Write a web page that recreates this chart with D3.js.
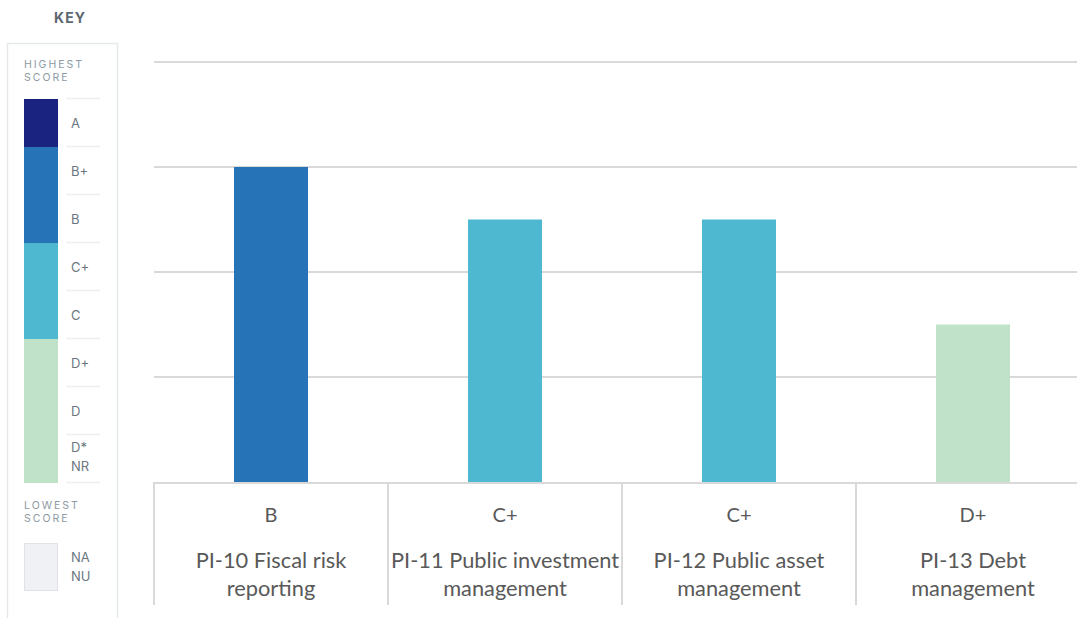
<!DOCTYPE html>
<html>
<head>
<meta charset="utf-8">
<script src="https://cdn.jsdelivr.net/npm/d3@7"></script>
<style>
  body { margin: 0; background: #fff; }
  svg { display: block; }
</style>
</head>
<body>
<svg id="chart" width="1077" height="618"></svg>
<script>
// indicator data
var categories = ["PI-10", "PI-11", "PI-12", "PI-13"];
var labelLines = [
    ["PI-10 Fiscal risk", "reporting"],
    ["PI-11 Public investment", "management"],
    ["PI-12 Public asset", "management"],
    ["PI-13 Debt", "management"]
];
var grades = ["B", "C+", "C+", "D+"];
var scores = [3, 2.5, 2.5, 1.5];
var yTicks = [1, 2, 3, 4];

// key data
var keyGrades = ["A", "B+", "B", "C+", "C", "D+", "D", "D*\nNR"];
var keyBands = [
    { from: 0, to: 1, color: "#1b2380" },
    { from: 1, to: 3, color: "#2673b8" },
    { from: 3, to: 5, color: "#4fb8d1" },
    { from: 5, to: 8, color: "#bfe2c8" }
];
var gradeColor = { "A": "#1b2380", "B+": "#2673b8", "B": "#2673b8", "C+": "#4fb8d1", "C": "#4fb8d1", "D+": "#bfe2c8", "D": "#bfe2c8" };

var svg = d3.select("#chart");

// ---------- chart ----------
var plot = { left: 154, right: 1090, top: 62, bottom: 482 };

var x = d3.scaleBand()
    .domain(categories)
    .range([plot.left, plot.right])
    .paddingInner(0)
    .paddingOuter(0);

var y = d3.scaleLinear()
    .domain([0, 4])
    .range([plot.bottom, plot.top]);

//gridlines
svg.append("g").selectAll("line")
    .data(yTicks)
    .enter()
    .append("line")
    .attr("x1", plot.left)
    .attr("x2", 1077)
    .attr("y1", function(d) { return y(d); })
    .attr("y2", function(d) { return y(d); })
    .style("stroke", "#d9d9d9")
    .style("stroke-width", 2);

//bars
var barW = 74;
svg.append("g").selectAll("rect")
    .data(categories)
    .enter()
    .append("rect")
    .attr("x", function(d) { return x(d) + x.bandwidth() / 2 - barW / 2; })
    .attr("y", function(d, i) { return y(scores[i]); })
    .attr("width", barW)
    .attr("height", function(d, i) { return y(0) - y(scores[i]); })
    .style("fill", function(d, i) { return gradeColor[grades[i]]; });

//baseline
svg.append("line")
    .attr("x1", plot.left).attr("x2", 1077)
    .attr("y1", y(0) + 1).attr("y2", y(0) + 1)
    .style("stroke", "#d9d9d9")
    .style("stroke-width", 2);

//column separators
svg.append("g").selectAll("line")
    .data(categories)
    .enter()
    .append("line")
    .attr("x1", function(d) { return x(d); })
    .attr("x2", function(d) { return x(d); })
    .attr("y1", y(0))
    .attr("y2", 605)
    .style("stroke", "#d9d9d9")
    .style("stroke-width", 2);

//grade + label text
var cols = svg.append("g").selectAll("g")
    .data(categories)
    .enter()
    .append("g")
    .attr("transform", function(d) { return "translate(" + (x(d) + x.bandwidth() / 2) + ",0)"; })
    .style("font-family", "Lato, 'Open Sans', sans-serif")
    .style("fill", "#595959")
    .attr("text-anchor", "middle");

cols.append("text")
    .attr("y", 522)
    .style("font-size", "20px")
    .text(function(d, i) { return grades[i]; });

cols.each(function(d, i) {
    var g = d3.select(this);
    labelLines[i].forEach(function(line, j) {
        g.append("text")
            .attr("y", 568 + j * 28)
            .style("font-size", "21.8px")
            .text(line);
    });
});

// ---------- key ----------
var key = svg.append("g")
    .style("font-family", "Inter, Roboto, sans-serif");

key.append("text")
    .attr("x", 70).attr("y", 23)
    .attr("text-anchor", "middle")
    .style("font-size", "14px")
    .style("font-weight", "bold")
    .style("letter-spacing", "1px")
    .style("fill", "#5d6870")
    .text("KEY");

key.append("rect")
    .attr("x", 7.5).attr("y", 43.5)
    .attr("width", 110).attr("height", 600)
    .style("fill", "none")
    .style("stroke", "#e6e9ec")
    .style("stroke-width", 1.5);

var smallCaps = function(lines, y0) {
    lines.forEach(function(t, j) {
        key.append("text")
            .attr("x", 24).attr("y", y0 + j * 13)
            .style("font-size", "10.5px")
            .style("letter-spacing", "2px")
            .style("fill", "#8e9aa3")
            .text(t);
    });
};
smallCaps(["HIGHEST", "SCORE"], 68);
smallCaps(["LOWEST", "SCORE"], 509);

var ky = d3.scaleLinear().domain([0, 8]).range([99, 483]);

key.append("g").selectAll("rect")
    .data(keyBands)
    .enter()
    .append("rect")
    .attr("x", 24)
    .attr("y", function(d) { return ky(d.from); })
    .attr("width", 34)
    .attr("height", function(d) { return ky(d.to) - ky(d.from); })
    .style("fill", function(d) { return d.color; });

key.append("g").selectAll("line")
    .data(d3.range(keyGrades.length + 1))
    .enter()
    .append("line")
    .attr("x1", 66).attr("x2", 100)
    .attr("y1", function(d) { return ky(d) - 0.5; })
    .attr("y2", function(d) { return ky(d) - 0.5; })
    .style("stroke", "#eceef0")
    .style("stroke-width", 1.5);

key.append("g").selectAll("text")
    .data(keyGrades)
    .enter()
    .append("text")
    .attr("x", 71)
    .style("font-size", "13px")
    .style("fill", "#6b7780")
    .each(function(d, i) {
        var parts = d.split("\n");
        var t = d3.select(this);
        if (parts.length === 1) {
            t.attr("y", ky(i + 0.5) + 5).text(d);
        } else {
            parts.forEach(function(p, j) {
                t.append("tspan").attr("x", 71).attr("y", ky(i) + 17 + j * 19).text(p);
            });
        }
    });

key.append("rect")
    .attr("x", 24.5).attr("y", 543.5)
    .attr("width", 33).attr("height", 47)
    .style("fill", "#eff1f5")
    .style("stroke", "#dfe2e6");

["NA", "NU"].forEach(function(t, j) {
    key.append("text")
        .attr("x", 71).attr("y", 562 + j * 19)
        .style("font-size", "13px")
        .style("fill", "#6b7780")
        .text(t);
});
</script>
</body>
</html>
